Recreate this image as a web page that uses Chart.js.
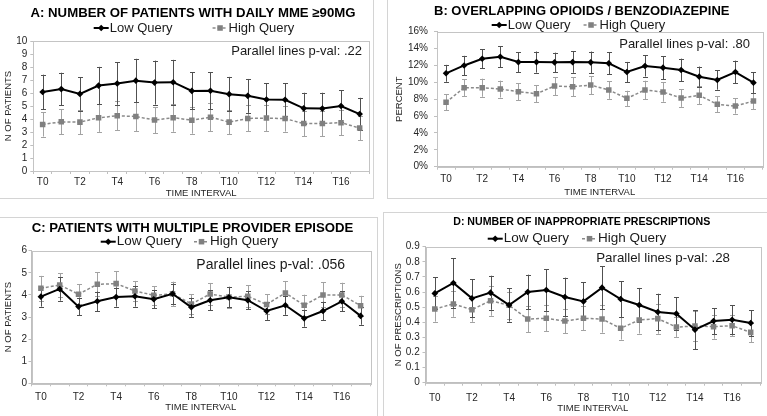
<!DOCTYPE html>
<html><head><meta charset="utf-8">
<script src="https://cdn.jsdelivr.net/npm/chart.js@4"></script>
<style>
html,body{margin:0;padding:0;background:#fff;width:767px;height:416px;overflow:hidden;position:relative;}
.panel{position:absolute;border:1px solid #d4d4d4;box-sizing:border-box;background:#fff;}
.panel canvas{display:block;}
</style></head><body>
<div class="panel" style="left:-1px;top:-1px;width:375px;height:200px"><canvas id="cA" width="373" height="198"></canvas></div>
<div class="panel" style="left:387px;top:-1px;width:381px;height:200px"><canvas id="cB" width="379" height="198"></canvas></div>
<div class="panel" style="left:-1px;top:217px;width:379px;height:200px"><canvas id="cC" width="377" height="198"></canvas></div>
<div class="panel" style="left:383px;top:212px;width:385px;height:205px"><canvas id="cD" width="383" height="203"></canvas></div>
<script>
// ---------- DATA ----------
const timeLabels = ['T0','T1','T2','T3','T4','T5','T6','T7','T8','T9','T10','T11','T12','T13','T14','T15','T16','T17'];
const seriesNames = ['Low Query', 'High Query'];

// A: Number of patients with daily MME >= 90mg
const lowA     = [6.08, 6.30, 5.93, 6.57, 6.73, 6.95, 6.80, 6.83, 6.16, 6.17, 5.91, 5.78, 5.50, 5.48, 4.82, 4.80, 5.00, 4.38];
const lowAErr  = [1.33, 1.26, 1.28, 1.44, 1.62, 1.68, 1.69, 1.72, 1.42, 1.41, 1.33, 1.30, 1.25, 1.28, 1.20, 1.22, 1.22, 1.25];
const highA    = [3.58, 3.78, 3.76, 4.09, 4.25, 4.19, 3.92, 4.10, 3.91, 4.14, 3.76, 4.04, 4.07, 4.03, 3.65, 3.66, 3.72, 3.30];
const highAErr = [0.93, 0.97, 0.95, 1.08, 1.12, 1.13, 1.00, 1.08, 1.04, 1.08, 0.95, 1.00, 1.00, 1.00, 0.97, 0.97, 0.97, 0.95];

// B: Overlapping opioids / benzodiazepine (percent)
const lowB     = [11.07, 12.00, 12.80, 13.03, 12.40, 12.40, 12.37, 12.40, 12.37, 12.25, 11.22, 11.94, 11.74, 11.46, 10.67, 10.28, 11.22, 9.96];
const lowBErr  = [1.00, 1.14, 1.10, 1.27, 1.19, 1.25, 1.15, 1.27, 1.28, 1.30, 1.20, 1.25, 1.35, 1.35, 1.20, 1.15, 1.35, 1.22];
const highB    = [7.63, 9.36, 9.36, 9.20, 8.89, 8.65, 9.56, 9.48, 9.68, 9.09, 8.10, 9.09, 8.85, 8.14, 8.46, 7.39, 7.19, 7.79];
const highBErr = [0.94, 1.03, 1.07, 1.00, 1.00, 1.03, 1.07, 1.10, 1.07, 1.05, 0.90, 1.10, 1.15, 1.05, 1.05, 0.95, 0.90, 1.00];

// C: Patients with multiple provider episode
const lowC     = [3.92, 4.27, 3.47, 3.71, 3.90, 3.94, 3.80, 4.05, 3.44, 3.76, 3.89, 3.76, 3.27, 3.53, 2.94, 3.27, 3.71, 3.05];
const lowCErr  = [0.45, 0.53, 0.38, 0.44, 0.43, 0.47, 0.41, 0.46, 0.43, 0.45, 0.45, 0.42, 0.40, 0.43, 0.38, 0.42, 0.45, 0.40];
const highC    = [4.30, 4.45, 4.03, 4.48, 4.51, 4.18, 3.98, 4.05, 3.59, 4.04, 3.90, 3.94, 3.57, 4.09, 3.53, 4.00, 4.00, 3.51];
const highCErr = [0.56, 0.53, 0.45, 0.54, 0.57, 0.45, 0.42, 0.55, 0.44, 0.50, 0.48, 0.50, 0.45, 0.54, 0.48, 0.57, 0.55, 0.45];

// D: Number of inappropriate prescriptions
const lowD     = [0.591, 0.660, 0.558, 0.596, 0.514, 0.600, 0.613, 0.567, 0.538, 0.629, 0.554, 0.514, 0.468, 0.457, 0.351, 0.408, 0.417, 0.395];
const lowDErr  = [0.106, 0.165, 0.126, 0.112, 0.110, 0.115, 0.137, 0.128, 0.126, 0.140, 0.119, 0.113, 0.121, 0.110, 0.130, 0.086, 0.097, 0.086];
const highD    = [0.488, 0.521, 0.483, 0.543, 0.512, 0.421, 0.426, 0.408, 0.426, 0.421, 0.360, 0.415, 0.424, 0.368, 0.375, 0.371, 0.377, 0.333];
const highDErr = [0.084, 0.085, 0.080, 0.100, 0.090, 0.088, 0.085, 0.080, 0.080, 0.090, 0.075, 0.090, 0.100, 0.065, 0.100, 0.080, 0.070, 0.065];

const titles   = ['A: NUMBER OF PATIENTS WITH DAILY MME \u226590MG', 'B: OVERLAPPING OPIOIDS / BENZODIAZEPINE', 'C: PATIENTS WITH MULTIPLE PROVIDER EPISODE', 'D: NUMBER OF INAPPROPRIATE PRESCRIPTIONS'];
const yTitles  = ['N OF PATIENTS', 'PERCENT', 'N OF PATIENTS', 'N OF PRESCRIPTIONS'];
const xTitle   = 'TIME INTERVAL';
const pvalTexts = ['Parallel lines p-val: .22', 'Parallel lines p-val: .80', 'Parallel lines p-val: .056', 'Parallel lines p-val: .28'];

// ---------- PLUGINS ----------
const FONT = '"Liberation Sans", Arial, Helvetica, sans-serif';
Chart.defaults.font.family = FONT;
Chart.defaults.color = '#262626';

const framePlugin = {
  id: 'frame',
  beforeDatasetsDraw(chart) {
    const a = chart.chartArea, ctx = chart.ctx;
    ctx.save();
    ctx.strokeStyle = '#c4c4c4'; ctx.lineWidth = 1;
    ctx.strokeRect(Math.round(a.left) + 0.5, Math.round(a.top) + 0.5, Math.round(a.right - a.left), Math.round(a.bottom - a.top));
    ctx.restore();
  }
};

const errorBarsPlugin = {
  id: 'errorBars',
  beforeDatasetsDraw(chart) {
    const ctx = chart.ctx, ys = chart.scales.y;
    for (let i = chart.data.datasets.length - 1; i >= 0; i--) {
      const ds = chart.data.datasets[i];
      if (!ds.errorBars) continue;
      const meta = chart.getDatasetMeta(i);
      ctx.save();
      ctx.strokeStyle = ds.errorColor; ctx.lineWidth = 1;
      const cap = 2.5;
      meta.data.forEach((pt, j) => {
        const v = ds.data[j], e = ds.errorBars[j];
        const yt = ys.getPixelForValue(v + e), yb = ys.getPixelForValue(v - e);
        const x = Math.round(pt.x) + 0.5;
        ctx.beginPath();
        ctx.moveTo(x, yt); ctx.lineTo(x, yb);
        ctx.moveTo(x - cap, Math.round(yt) + 0.5); ctx.lineTo(x + cap, Math.round(yt) + 0.5);
        ctx.moveTo(x - cap, Math.round(yb) + 0.5); ctx.lineTo(x + cap, Math.round(yb) + 0.5);
        ctx.stroke();
      });
      ctx.restore();
    }
  }
};

const excelLegend = {
  id: 'excelLegend',
  afterDraw(chart, args, opts) {
    const ctx = chart.ctx;
    ctx.save();
    ctx.font = opts.size + 'px ' + FONT;
    const lineLen = 15, txtGap = 1;
    const items = chart.data.datasets.map(ds => ({ds, w: lineLen + txtGap + ctx.measureText(ds.label).width}));
    const total = items.reduce((s, it) => s + it.w, 0) + opts.gap * (items.length - 1);
    let x = opts.cx - total / 2;
    const y = opts.cy;
    items.forEach(it => {
      const ds = it.ds;
      ctx.strokeStyle = ds.borderColor; ctx.lineWidth = ds.borderWidth;
      ctx.setLineDash(ds.borderDash || []);
      ctx.beginPath(); ctx.moveTo(x, y); ctx.lineTo(x + lineLen, y); ctx.stroke();
      ctx.setLineDash([]);
      ctx.fillStyle = ds.pointBackgroundColor; ctx.strokeStyle = ds.pointBorderColor;
      Chart.helpers.drawPoint(ctx, {pointStyle: ds.pointStyle, radius: ds.pointRadius, rotation: 0, borderWidth: 0}, x + lineLen / 2, y);
      ctx.fillStyle = '#1a1a1a'; ctx.textBaseline = 'middle'; ctx.textAlign = 'left';
      ctx.fillText(ds.label, x + lineLen + txtGap, y);
      x += it.w + opts.gap;
    });
    ctx.restore();
  }
};

const pvalPlugin = {
  id: 'pval',
  afterDraw(chart, args, opts) {
    const ctx = chart.ctx;
    ctx.save();
    ctx.font = opts.size + 'px ' + FONT;
    ctx.fillStyle = '#1a1a1a'; ctx.textAlign = 'right'; ctx.textBaseline = 'middle';
    ctx.fillText(opts.text, opts.x, opts.y);
    ctx.restore();
  }
};

// ---------- BUILDER ----------
function makePanel(canvasId, title, yTitle, pval, low, lowErr, high, highErr, g) {
  const datasets = [
    {label: seriesNames[0], data: low, errorBars: lowErr, errorColor: '#505050',
     borderColor: '#000000', borderWidth: 2, pointStyle: 'rectRot', pointRadius: 3.3,
     pointBackgroundColor: '#000000', pointBorderColor: '#000000', pointBorderWidth: 0, tension: 0},
    {label: seriesNames[1], data: high, errorBars: highErr, errorColor: '#a3a3a3',
     borderColor: '#8a8a8a', borderWidth: 1.5, borderDash: [3, 2], pointStyle: 'rect', pointRadius: 3.9,
     pointBackgroundColor: '#808080', pointBorderColor: '#808080', pointBorderWidth: 0, tension: 0}
  ];
  return new Chart(document.getElementById(canvasId), {
    type: 'line',
    data: {labels: timeLabels, datasets},
    options: {
      responsive: false, animation: false, devicePixelRatio: 1,
      layout: {padding: {left: g.L, right: g.R, top: 0, bottom: 0}},
      plugins: {
        legend: {display: false},
        tooltip: {enabled: false},
        title: {display: true, text: title, color: '#000',
                font: {size: g.titleSize, weight: 'bold', lineHeight: 1},
                padding: {top: g.titlePT, bottom: g.titlePB}},
        excelLegend: {cx: g.legCx, cy: g.legCy, gap: g.legGap, size: g.legSize},
        pval: {text: pval, x: g.pvX, y: g.pvY, size: g.pvSize}
      },
      scales: {
        x: {
          type: 'category', offset: true,
          grid: {display: true, offset: true, drawOnChartArea: false, drawTicks: true, tickLength: 3, color: '#bfbfbf'},
          border: {display: true, color: '#bfbfbf'},
          ticks: {autoSkip: false, maxRotation: 0, padding: g.xTickPad, font: {size: 10, lineHeight: 1.2}, color: '#262626',
                  callback: function(v, i) { return i % 2 === 0 ? this.getLabelForValue(v) : ''; }},
          title: {display: true, text: xTitle, color: '#262626', font: {size: 9.5, lineHeight: 1}, padding: {top: 0, bottom: g.xTitlePB}},
          afterFit: s => { s.height = g.xH; }
        },
        y: {
          min: g.ymin, max: g.ymax,
          grid: {display: true, drawOnChartArea: false, drawTicks: true, tickLength: 3, color: '#bfbfbf'},
          border: {display: true, color: '#bfbfbf'},
          ticks: {stepSize: g.ystep, autoSkip: false, padding: g.yTickPad, font: {size: 10, lineHeight: 1.2}, color: '#262626',
                  callback: g.yFmt},
          title: {display: true, text: yTitle, color: '#262626', font: {size: 9.5, lineHeight: 1}, padding: {top: g.yTitlePT, bottom: 0}},
          afterFit: s => { s.width = g.yW; }
        }
      }
    },
    plugins: [framePlugin, errorBarsPlugin, excelLegend, pvalPlugin]
  });
}

const numFmt = v => String(Math.round(v * 10) / 10);

makePanel('cA', titles[0], yTitles[0], pvalTexts[0], lowA, lowAErr, highA, highAErr, {
  L: 14.5, R: 1.5, yW: 18.8, xH: 27, titleSize: 13.2, titlePT: 6.4, titlePB: 21.4,
  yTitlePT: -10.95, xTitlePB: 0.25, xTickPad: 2.5, yTickPad: 3,
  legCx: 194, legCy: 28, legGap: 40, legSize: 13, pvX: 362, pvY: 51, pvSize: 13,
  ymin: 0, ymax: 10, ystep: 1, yFmt: numFmt
});
makePanel('cB', titles[1], yTitles[1], pvalTexts[1], lowB, lowBErr, highB, highBErr, {
  L: 13, R: 4.5, yW: 36, xH: 31.3, titleSize: 13, titlePT: 5, titlePB: 13.7,
  yTitlePT: -6.05, xTitlePB: 0.95, xTickPad: 4, yTickPad: 6,
  legCx: 190.5, legCy: 25, legGap: 13, legSize: 13, pvX: 362, pvY: 44, pvSize: 13,
  ymin: 0, ymax: 16, ystep: 2, yFmt: v => Math.round(v) + '%'
});
makePanel('cC', titles[2], yTitles[2], pvalTexts[2], lowC, lowCErr, highC, highCErr, {
  L: 15, R: 7, yW: 16.5, xH: 32.7, titleSize: 13.2, titlePT: 4.2, titlePB: 15.3,
  yTitlePT: -11.45, xTitlePB: 3.45, xTickPad: 4.7, yTickPad: 1.5,
  legCx: 189.5, legCy: 23.7, legGap: 12, legSize: 13.5, pvX: 345, pvY: 47, pvSize: 14,
  ymin: 0, ymax: 6, ystep: 1, yFmt: numFmt
});
makePanel('cD', titles[3], yTitles[3], pvalTexts[3], lowD, lowDErr, highD, highDErr, {
  L: 19.5, R: 7, yW: 22, xH: 33.3, titleSize: 10.6, titlePT: 4.0, titlePB: 19.1,
  yTitlePT: -10.25, xTitlePB: 2.95, xTickPad: 6.3, yTickPad: 2.8,
  legCx: 193, legCy: 25.7, legGap: 13, legSize: 13.5, pvX: 346, pvY: 45.8, pvSize: 13.3,
  ymin: 0, ymax: 0.9, ystep: 0.1, yFmt: numFmt
});
</script>
</body></html>
